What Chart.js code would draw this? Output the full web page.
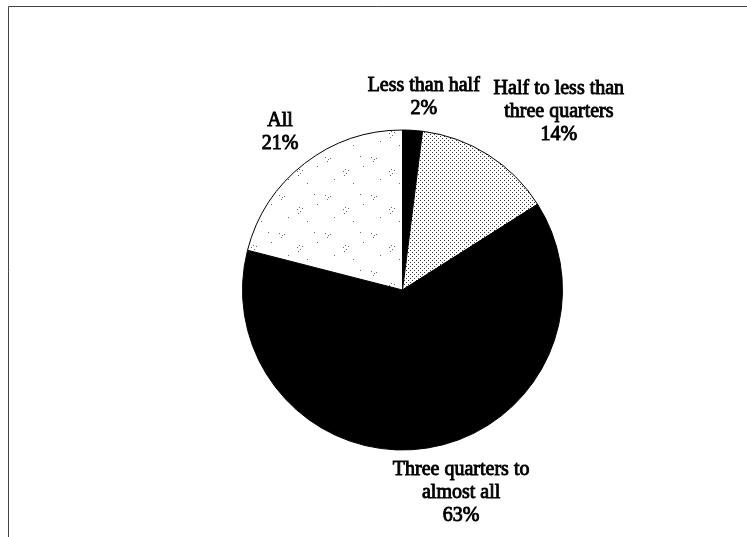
<!DOCTYPE html>
<html>
<head>
<meta charset="utf-8">
<script src="https://cdn.jsdelivr.net/npm/chart.js@4/dist/chart.umd.min.js"></script>
<style>
    body { margin: 0; background: #fff; }
    #wrap { width: 747px; height: 537px; }
</style>
</head>
<body>
<div id="wrap"><canvas id="pieChart" width="747" height="537"></canvas></div>
<script>
// Chart data
const categories = [
    ['Less than half'],
    ['Half to less than', 'three quarters'],
    ['Three quarters to', 'almost all'],
    ['All']
];
const shares = [2, 14, 63, 21];

// Fill patterns for the slices
function dotPattern() {
    const c = document.createElement('canvas');
    c.width = 4; c.height = 4;
    const g = c.getContext('2d');
    g.fillStyle = '#fff';
    g.fillRect(0, 0, 4, 4);
    g.fillStyle = '#333';
    g.fillRect(0, 0, 1, 1);
    g.fillRect(2, 2, 1, 1);
    return g.createPattern(c, 'repeat');
}

function speckPattern() {
    const c = document.createElement('canvas');
    c.width = 46; c.height = 38;
    const g = c.getContext('2d');
    g.fillStyle = '#fff';
    g.fillRect(0, 0, 46, 38);
    g.fillStyle = '#666';
    [[3, 5], [6, 7], [5, 9], [8, 6], [21, 19], [24, 21], [22, 23], [26, 18], [23, 17], [38, 4], [31, 31], [12, 27], [41, 14]]
        .forEach(p => g.fillRect(p[0], p[1], 1, 1));
    return g.createPattern(c, 'repeat');
}

// Frame line along top and left edges
const framePlugin = {
    id: 'frame',
    beforeDraw(chart) {
        const ctx = chart.ctx;
        ctx.save();
        ctx.strokeStyle = '#444';
        ctx.lineWidth = 1;
        ctx.beginPath();
        ctx.moveTo(747, 6.5);
        ctx.lineTo(8.5, 6.5);
        ctx.lineTo(8.5, 537);
        ctx.stroke();
        ctx.restore();
    }
};

// Category + percentage labels outside each slice
const labelPlugin = {
    id: 'outsideLabels',
    afterDraw(chart) {
        const ctx = chart.ctx;
        const meta = chart.getDatasetMeta(0);
        const total = shares.reduce((a, b) => a + b, 0);
        const lineH = 23;
        ctx.save();
        ctx.font = '20px "Liberation Serif", "Times New Roman", serif';
        ctx.fillStyle = '#000';
        ctx.strokeStyle = '#000';
        ctx.lineWidth = 0.9;
        ctx.textAlign = 'center';
        ctx.textBaseline = 'middle';
        meta.data.forEach((arc, i) => {
            const lines = categories[i].concat([Math.round(shares[i] / total * 100) + '%']);
            const w = Math.max(...lines.map(t => ctx.measureText(t).width));
            const h = lines.length * lineH;
            const mid = (arc.startAngle + arc.endAngle) / 2;
            const sx = Math.cos(mid), sy = Math.sin(mid);
            const ax = arc.x + (arc.outerRadius + 10) * sx;
            const ay = arc.y + (arc.outerRadius + 10) * sy;
            const clamp = v => Math.max(-1, Math.min(1, v));
            const cx = ax + clamp(sx * 3) * w / 2;
            const cy = ay + clamp(sy * 3) * h / 2;
            lines.forEach((t, k) => {
                const y = cy - h / 2 + lineH / 2 + k * lineH;
                ctx.fillText(t, cx, y);
                ctx.strokeText(t, cx, y);
            });
        });
        ctx.restore();
    }
};

function initializeChart() {
    const ctx = document.getElementById('pieChart').getContext('2d');
    new Chart(ctx, {
        type: 'pie',
        data: {
            labels: categories,
            datasets: [{
                data: shares,
                backgroundColor: ['#000', dotPattern(), '#000', speckPattern()],
                borderColor: '#000',
                borderWidth: 1
            }]
        },
        options: {
            responsive: false,
            animation: false,
            layout: { padding: { left: 242, right: 184, top: 129, bottom: 86 } },
            plugins: {
                legend: { display: false },
                tooltip: { enabled: false }
            }
        },
        plugins: [framePlugin, labelPlugin]
    });
}

document.addEventListener('DOMContentLoaded', initializeChart);
</script>
</body>
</html>
